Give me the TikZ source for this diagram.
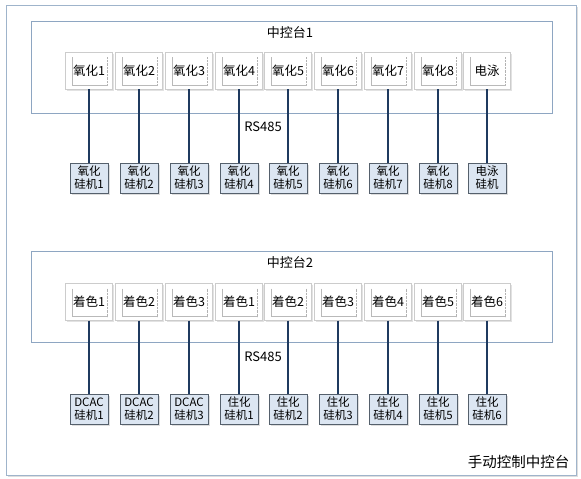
\documentclass[tikz,border=0pt]{standalone}
\usepackage{fontspec}
\setmainfont{Noto Sans CJK SC}
\usetikzlibrary{shadows}
\definecolor{framec}{HTML}{9FB4CB}
\definecolor{panelc}{HTML}{8EA6C2}
\definecolor{busc}{HTML}{1F3A5F}
\definecolor{devfill}{HTML}{DCE6F2}
\definecolor{devline}{HTML}{55606C}
\begin{document}
\begin{tikzpicture}
[x=1pt,y=-1pt,
 panel/.style={draw=panelc,line width=.8pt},
 btn/.style={draw=gray!40,fill=white,minimum width=47pt,minimum height=37pt,inner sep=0pt,
   font=\fontsize{12.5}{14}\selectfont,
   drop shadow={shadow xshift=1.8pt,shadow yshift=-1.8pt,fill=gray!45},
   path picture={
     \draw[gray!55] ([xshift=7pt,yshift=-5pt]path picture bounding box.north west)
       -- ([xshift=7pt,yshift=4pt]path picture bounding box.south west)
       -- ([xshift=-5pt,yshift=4pt]path picture bounding box.south east);
     \draw[gray!60,densely dotted] ([xshift=-5pt,yshift=-5pt]path picture bounding box.north east)
       -- ([xshift=-5pt,yshift=4pt]path picture bounding box.south east);}},
 dev/.style={draw=devline,fill=devfill,minimum width=38pt,minimum height=30pt,inner sep=0pt,
   align=center,font=\fontsize{11.5}{13}\selectfont,
   drop shadow={shadow xshift=1.8pt,shadow yshift=-1.8pt,fill=gray!50}},
 bus/.style={draw=busc,line width=2pt},
 title/.style={font=\fontsize{13}{15}\selectfont}]
\useasboundingbox (0,0) rectangle (581,479);
\fill[white] (0,0) rectangle (581,479);
\draw[draw=framec,fill=white,line width=.8pt,drop shadow={shadow xshift=2pt,shadow yshift=-2pt,fill=gray!50}] (6,5) rectangle (576,475);
% upper console
\draw[panel] (31,21) rectangle (552,113);
\node[title] (t1) at (290,33) {中控台1};
\node[title] (r1) at (263,127) {RS485};
\foreach \i/\x/\txt/\dtxt in {1/89/氧化1/氧化\\硅机1,2/139/氧化2/氧化\\硅机2,3/189/氧化3/氧化\\硅机3,
   4/239/氧化4/氧化\\硅机4,5/288/氧化5/氧化\\硅机5,6/338/氧化6/氧化\\硅机6,7/388/氧化7/氧化\\硅机7,
   8/438/氧化8/氧化\\硅机8,9/487/电泳/电泳\\硅机}
{
\node[btn] (a\i) at (\x,70.5) {\txt};
\node[dev] (b\i) at (\x,178) {\dtxt};
\draw[bus] (a\i) -- (b\i);
}
% lower console
\draw[panel] (31,251) rectangle (552,342);
\node[title] (t2) at (290,263) {中控台2};
\node[title] (r2) at (263,357) {RS485};
\foreach \i/\x/\txt/\dtxt in {1/89/着色1/DCAC\\硅机1,2/139/着色2/DCAC\\硅机2,3/189/着色3/DCAC\\硅机3,
   4/239/着色1/住化\\硅机1,5/288/着色2/住化\\硅机2,6/338/着色3/住化\\硅机3,7/388/着色4/住化\\硅机4,
   8/438/着色5/住化\\硅机5,9/487/着色6/住化\\硅机6}
{
\node[btn] (c\i) at (\x,302) {\txt};
\node[dev] (d\i) at (\x,409) {\dtxt};
\draw[bus] (c\i) -- (d\i);
}
\node[font=\fontsize{14.5}{16}\selectfont,anchor=east] (m) at (573,462) {手动控制中控台};
\end{tikzpicture}
\end{document}
